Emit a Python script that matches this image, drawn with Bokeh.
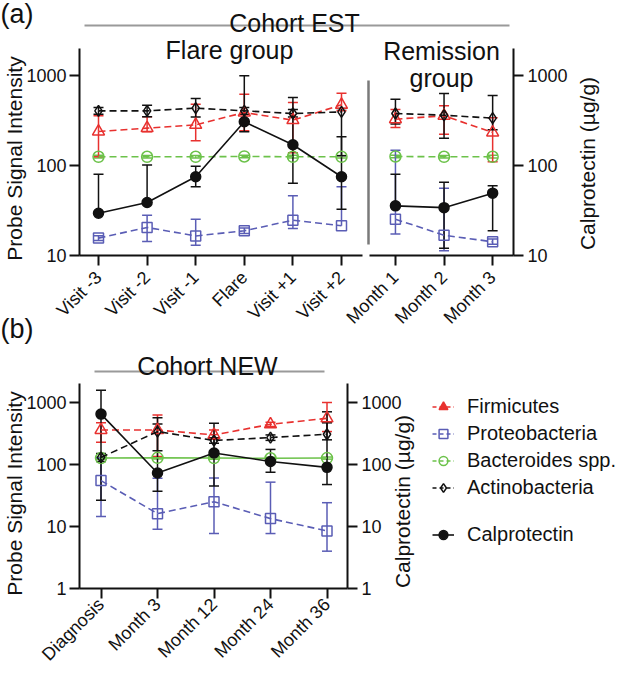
import math
from bokeh.plotting import figure
from bokeh.models import (ColumnDataSource, FixedTicker, BasicTickFormatter, LogAxis, LinearAxis,
                          Label, Whisker, TeeHead, Legend, LegendItem, Range1d, LogScale)
from bokeh.embed import file_html
from bokeh.resources import INLINE

# ---------------- data ----------------
flare_labels = ["Visit -3", "Visit -2", "Visit -1", "Flare", "Visit +1", "Visit +2"]
remission_labels = ["Month 1", "Month 2", "Month 3"]
new_labels = ["Diagnosis", "Month 3", "Month 12", "Month 24", "Month 36"]

# Cohort EST: six flare-group visits, then three remission-group months
est_firmicutes = [239, 260, 283, 388, 319, 472, 327, 357, 233]
est_firmicutes_hi = [357, 348, 480, 617, 501, 635, 420, 460, 340]
est_firmicutes_lo = [125, 237, 188, 243, 139, 405, 264, 223, 110]

est_proteo = [15.6, 20.5, 16.5, 18.8, 24.7, 21.4, 25.3, 16.8, 14.2]
est_proteo_hi = [16.6, 28, 25.3, 20.2, 46, 58, 148, 56, 15.3]
est_proteo_lo = [14.7, 14.3, 13, 17.6, 20, None, 17.3, 11.3, 13.3]

est_bacteroides = [125, 125, 125, 126, 125, 125, 126, 125, 125]
est_bacteroides_hi = [130, 129, 129, 130, 130, 129, 130, 129, 130]
est_bacteroides_lo = [121, 121, 121, 122, 121, 121, 122, 121, 121]

est_actino = [405, 405, 434, 405, 378, 394, 378, 362, 336]
est_actino_hi = [441, 468, 555, 440, 420, 430, 545, 631, 599]
est_actino_lo = [372, 348, 345, 372, 345, 128, 290, 201, 250]

est_calpro = [29.5, 38.8, 75, 306, 170, 75, 35.6, 34, 49.3]
est_calpro_hi = [80, 101, 98, 993, 570, 208, 80, 65, 59.4]
est_calpro_lo = [None, None, 58, 237, 63.5, 32.7, None, 12, 18.8]

# Cohort NEW
new_firmicutes = [360, 360, 300, 445, 555]
new_firmicutes_hi = [473, 627, 360, 480, 1000]
new_firmicutes_lo = [229, 135, 255, 410, 340]

new_proteo = [55, 16.1, 25.1, 13.4, 8.5]
new_proteo_hi = [127, 60, 60.8, 51.9, 24.2]
new_proteo_lo = [14.5, 9.06, 7.7, 7.7, 4.0]

new_bacteroides = [127, 128, 127, 126, 127]
new_bacteroides_hi = [132, 133, 132, 131, 132]
new_bacteroides_lo = [122, 123, 122, 121, 122]

new_actino = [130, 340, 244, 272, 308]
new_actino_hi = [150, 450, 270, 300, 708]
new_actino_lo = [112, 166, 220, 245, 250]

new_calpro = [650, 73, 153, 112, 90]
new_calpro_hi = [1573, 569, 461, 175, 470]
new_calpro_lo = [26.4, 37, 44.8, 75, 47.5]

legend_labels = ["Firmicutes", "Proteobacteria", "Bacteroides spp.", "Actinobacteria"]

# ---------------- style ----------------
FONT = "Liberation Sans"
RED = "#E8312F"
BLUE = "#5A5DB5"
GREEN = "#6CC24A"
BLACK = "#111111"
GRAY = "#9A9A9A"
DASH = "7 4"
NAN = float("nan")


# layout helpers: page pixel -> data coordinate of each panel
def xa(px):
    return (px - 106) / 48.6


def ya(py):
    return 10 ** (1 + (263 - py) / 90.0)


def xb(px):
    return (px - 108.5) / 56.5


def yb(py):
    return 10 ** ((596 - py) / 62.0)


A = dict(x_range_name="default", y_range_name="default")
B = dict(x_range_name="xb", y_range_name="yb")

p = figure(width=616, height=664, x_range=Range1d(xa(8), xa(624)),
           y_range=Range1d(ya(672), ya(8)), y_axis_type="log",
           x_axis_location=None, y_axis_location=None, output_backend="svg",
           toolbar_location=None, min_border=0)
p.extra_x_ranges = {"xb": Range1d(xb(8), xb(624))}
p.extra_y_ranges = {"yb": Range1d(yb(672), yb(8))}
p.extra_y_scales = {"yb": LogScale()}
p.outline_line_color = None
p.grid.visible = False
p.title.visible = False


def style_axis(ax):
    ax.axis_line_width = 2
    ax.axis_line_color = BLACK
    ax.major_tick_line_width = 2
    ax.major_tick_line_color = BLACK
    ax.major_tick_out = 10
    ax.major_tick_in = 0
    ax.minor_tick_line_color = None
    ax.major_label_text_font = FONT
    ax.major_label_text_font_size = "18px"
    ax.major_label_text_color = BLACK


def log_axis(side, loc, ticks, bounds, rn, standoff):
    ax = LogAxis(fixed_location=loc, bounds=bounds, **rn)
    style_axis(ax)
    ax.ticker = FixedTicker(ticks=ticks)
    ax.formatter = BasicTickFormatter(use_scientific=False)
    ax.major_label_overrides = {t: str(t) for t in ticks}
    ax.major_label_standoff = standoff
    p.add_layout(ax, side)


def cat_axis(loc, xs, labels, bounds, rn, standoff):
    ax = LinearAxis(fixed_location=loc, bounds=bounds, **rn)
    style_axis(ax)
    ax.ticker = FixedTicker(ticks=xs)
    ax.major_label_overrides = {x: l for x, l in zip(xs, labels)}
    ax.major_label_orientation = math.pi / 4
    ax.major_label_standoff = standoff
    p.add_layout(ax, "below")


def txt(x, y, s, size, rn, align="center", baseline="alphabetic", angle=0):
    p.add_layout(Label(x=x, y=y, text=s, text_font=FONT, text_font_size=size,
                       text_align=align, text_baseline=baseline, angle=angle,
                       text_color=BLACK, **rn))


def add_series(xs, vals, hi, lo, color, marker, size, dash, rn, fill=None, groups=None):
    for a, b in groups:
        src = ColumnDataSource(dict(x=xs[a:b], y=vals[a:b]))
        p.line("x", "y", source=src, line_color=color, line_width=1.6, line_dash=dash, **rn)
        p.scatter("x", "y", source=src, marker=marker, size=size, line_color=color,
                  fill_color=fill, line_width=1.5, **rn)
    up = ColumnDataSource(dict(x=xs, y=vals, hi=hi))
    p.add_layout(Whisker(source=up, base="x", upper="hi", lower="y", dimension="height",
                         upper_head=TeeHead(size=10, line_color=color, line_width=1.5),
                         lower_head=None, line_color=color, line_width=1.5, **rn))
    idx = [i for i, v in enumerate(lo) if v is not None]
    dn = ColumnDataSource(dict(x=[xs[i] for i in idx], y=[vals[i] for i in idx],
                               lo=[lo[i] for i in idx]))
    p.add_layout(Whisker(source=dn, base="x", upper="y", lower="lo", dimension="height",
                         lower_head=TeeHead(size=10, line_color=color, line_width=1.5),
                         upper_head=None, line_color=color, line_width=1.5, **rn))


# ---------------- panel (a): Cohort EST ----------------
nf = len(flare_labels)
flare_x = list(range(nf))
rem_x = [round(6.11 + i, 2) for i in range(len(remission_labels))]
est_x = flare_x + rem_x
groups_a = [(0, nf), (nf, len(est_x))]

log_axis("left", xa(87), [10, 100, 1000], (10, 2000), A, 3)
log_axis("right", xa(521), [10, 100, 1000], (10, 2000), A, 4)
cat_axis(10, flare_x, flare_labels, (xa(87), xa(370)), A, 9)
cat_axis(10, rem_x, remission_labels, (xa(377), xa(521)), A, 9)

# group separator and cohort underline
p.line(x=[xa(376), xa(376)], y=[ya(252), ya(88)], line_color="#7A7A7A", line_width=2.5)
p.line(x=[xa(92), xa(517)], y=[ya(33), ya(33)], line_color=GRAY, line_width=2)

add_series(est_x, est_bacteroides, est_bacteroides_hi, est_bacteroides_lo, GREEN,
           "circle", 11, DASH, A, groups=groups_a)
add_series(est_x, est_proteo, est_proteo_hi, est_proteo_lo, BLUE,
           "square", 10, DASH, A, groups=groups_a)
add_series(est_x, est_firmicutes, est_firmicutes_hi, est_firmicutes_lo, RED,
           "triangle", 12, DASH, A, groups=groups_a)
add_series(est_x, est_actino, est_actino_hi, est_actino_lo, BLACK,
           "diamond", 11, DASH, A, groups=groups_a)
add_series(est_x, est_calpro, est_calpro_hi, est_calpro_lo, BLACK,
           "circle", 10, "solid", A, fill=BLACK, groups=groups_a)

txt(xa(8), ya(6), "(a)", "27px", A, align="left", baseline="top")
txt(xa(302), ya(30), "Cohort EST", "25px", A)
txt(xa(237), ya(57), "Flare group", "25px", A)
txt(xa(449), ya(58), "Remission", "25px", A)
txt(xa(449), ya(85), "group", "25px", A)
txt(xa(22), ya(166), "Probe Signal Intensity", "21px", A, baseline="middle", angle=math.pi / 2)
txt(xa(595), ya(171), "Calprotectin (\u00b5g/g)", "21px", A, baseline="middle", angle=math.pi / 2)
txt(xa(8), ya(336), "(b)", "27px", A, align="left", baseline="middle")

# ---------------- panel (b): Cohort NEW ----------------
new_x = list(range(len(new_labels)))
groups_b = [(0, len(new_x))]

log_axis("left", xb(87), [1, 10, 100, 1000], (1, 2000), B, 3)
log_axis("right", xb(355), [1, 10, 100, 1000], (1, 2000), B, 4)
cat_axis(1, new_x, new_labels, (xb(87), xb(355)), B, 3)

p.line(x=[xb(102), xb(332)], y=[yb(379), yb(379)], line_color=GRAY, line_width=2, **B)

add_series(new_x, new_bacteroides, new_bacteroides_hi, new_bacteroides_lo, GREEN,
           "circle", 11, "solid", B, groups=groups_b)
add_series(new_x, new_proteo, new_proteo_hi, new_proteo_lo, BLUE,
           "square", 10, DASH, B, groups=groups_b)
add_series(new_x, new_firmicutes, new_firmicutes_hi, new_firmicutes_lo, RED,
           "triangle", 12, DASH, B, groups=groups_b)
add_series(new_x, new_actino, new_actino_hi, new_actino_lo, BLACK,
           "diamond", 11, DASH, B, groups=groups_b)
add_series(new_x, new_calpro, new_calpro_hi, new_calpro_lo, BLACK,
           "circle", 10, "solid", B, fill=BLACK, groups=groups_b)

txt(xb(215), yb(373), "Cohort NEW", "25px", B)
txt(xb(22), yb(501), "Probe Signal Intensity", "21px", B, baseline="middle", angle=math.pi / 2)
txt(xb(410), yb(509), "Calprotectin (\u00b5g/g)", "21px", B, baseline="middle", angle=math.pi / 2)


# legend: placeholder renderers (a single NaN point draws nothing) carry the key styling
def legend_item(label, color, marker, dash, fill=None, size=10):
    lr = p.line(x=[NAN], y=[NAN], line_color=color, line_width=1.6, line_dash=dash, **B)
    sr = p.scatter(x=[NAN], y=[NAN], marker=marker, size=size, line_color=color,
                   fill_color=fill, line_width=1.5, **B)
    return LegendItem(label=label, renderers=[lr, sr])


items1 = [
    legend_item(legend_labels[0], RED, "triangle", "4 3", fill=RED, size=11),
    legend_item(legend_labels[1], BLUE, "square", "4 3", size=10),
    legend_item(legend_labels[2], GREEN, "circle", "4 3", size=10),
    legend_item(legend_labels[3], BLACK, "diamond", "4 3", size=9),
]
items2 = [legend_item("Calprotectin", BLACK, "circle", "solid", fill=BLACK, size=10)]

for items, vy in ((items1, 163.5), (items2, 116.5)):
    lg = Legend(items=items, location=(432, vy), padding=0, margin=0, spacing=0,
                glyph_width=22, glyph_height=27, label_height=27, label_standoff=13,
                border_line_color=None, background_fill_alpha=0,
                label_text_font=FONT, label_text_font_size="20px",
                label_text_color=BLACK)
    p.add_layout(lg, "center")

open("out.html", "w").write(file_html(p, INLINE))
